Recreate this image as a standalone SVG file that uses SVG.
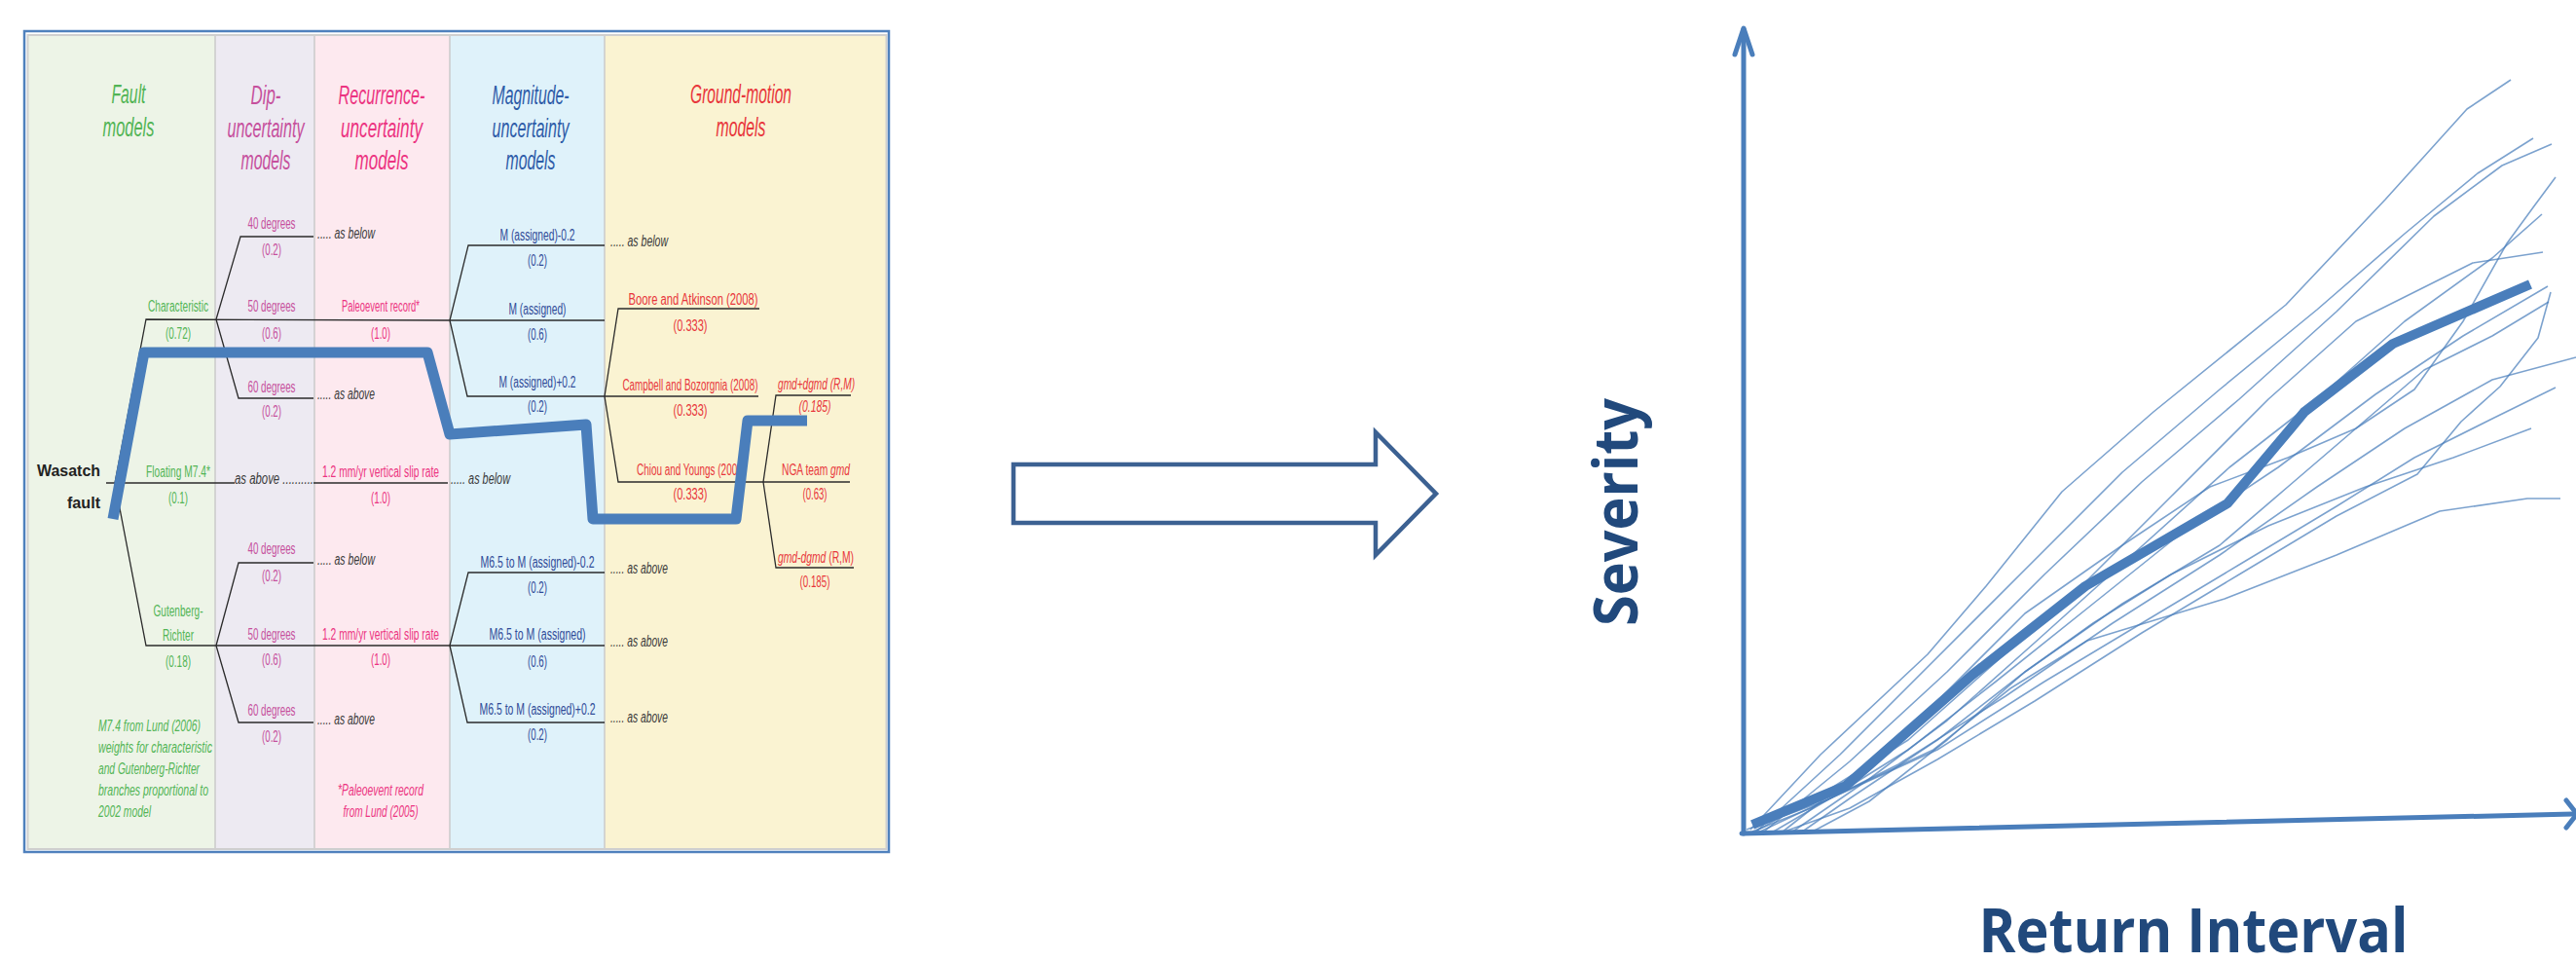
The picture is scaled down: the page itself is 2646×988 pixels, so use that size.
<svg xmlns="http://www.w3.org/2000/svg" width="2646" height="988" viewBox="0 0 2646 988">
<style>
text{font-family:"Liberation Sans Narrow","Liberation Sans",Arial,sans-serif;font-size:16px}
.hd{font-size:27px;font-style:italic;text-anchor:middle}
.c{text-anchor:middle}
.i{font-style:italic}
.gn{fill:#52b455}
.dp{fill:#c6509d}
.rc{fill:#ec3481}
.mg{fill:#2f4b98}
.mh{fill:#2e5ca8}
.gm{fill:#e8363b}
.dk{fill:#3a3a3a}
.tree{fill:none;stroke:#2b2b2b;stroke-width:1.3}
.sep{stroke:#cacaca;stroke-width:1.5}
.thin{fill:none;stroke:#4a7ebb;stroke-width:1.6;stroke-opacity:0.72;stroke-linejoin:round}
.big{font-family:"Open Sans","Noto Sans",sans-serif;font-weight:700;font-size:63px;fill:#21497c}
</style>

<!-- logic tree panel -->
<g id="panel">
  <rect x="28" y="36" width="883" height="836" fill="#edf4e7"/>
  <rect x="221" y="36" width="102" height="836" fill="#edeaf2"/>
  <rect x="323" y="36" width="139" height="836" fill="#fde9ef"/>
  <rect x="462" y="36" width="159" height="836" fill="#dff2fa"/>
  <rect x="621" y="36" width="290" height="836" fill="#faf3d2"/>
  <line class="sep" x1="221" y1="36" x2="221" y2="872"/>
  <line class="sep" x1="323" y1="36" x2="323" y2="872"/>
  <line class="sep" x1="462" y1="36" x2="462" y2="872"/>
  <line class="sep" x1="621" y1="36" x2="621" y2="872"/>
  <rect x="28.5" y="36" width="882" height="836" fill="none" stroke="#cfcfcf" stroke-width="2"/>
  <rect x="25" y="32" width="888" height="843" fill="none" stroke="#4f81bd" stroke-width="2.5"/>
</g>

<!-- column headers -->
<g id="headers">
  <text class="hd gn" x="132" y="106" textLength="35" lengthAdjust="spacingAndGlyphs">Fault</text>
  <text class="hd gn" x="132" y="140" textLength="53" lengthAdjust="spacingAndGlyphs">models</text>
  <text class="hd dp" x="273" y="107" textLength="31" lengthAdjust="spacingAndGlyphs">Dip-</text>
  <text class="hd dp" x="273" y="141" textLength="79" lengthAdjust="spacingAndGlyphs">uncertainty</text>
  <text class="hd dp" x="273" y="174" textLength="51" lengthAdjust="spacingAndGlyphs">models</text>
  <text class="hd rc" x="392" y="107" textLength="89" lengthAdjust="spacingAndGlyphs">Recurrence-</text>
  <text class="hd rc" x="392" y="141" textLength="84" lengthAdjust="spacingAndGlyphs">uncertainty</text>
  <text class="hd rc" x="392" y="174" textLength="55" lengthAdjust="spacingAndGlyphs">models</text>
  <text class="hd mh" x="545" y="107" textLength="79" lengthAdjust="spacingAndGlyphs">Magnitude-</text>
  <text class="hd mh" x="545" y="141" textLength="79" lengthAdjust="spacingAndGlyphs">uncertainty</text>
  <text class="hd mh" x="545" y="174" textLength="51" lengthAdjust="spacingAndGlyphs">models</text>
  <text class="hd gm" x="761" y="106" textLength="104" lengthAdjust="spacingAndGlyphs">Ground-motion</text>
  <text class="hd gm" x="761" y="140" textLength="51" lengthAdjust="spacingAndGlyphs">models</text>
</g>

<!-- branch connectors -->
<g id="connectors" class="tree">
  <polyline points="109,496 241,496"/>
  <polyline points="322,496 460,496"/>
  <polyline points="118,496 150,328 462,329"/>
  <polyline points="118,496 150,663 462,663"/>
  <polyline points="222,328 247,243 322,243"/>
  <polyline points="222,328 245,409 322,409"/>
  <polyline points="222,663 245,578 322,578"/>
  <polyline points="222,663 245,742 322,742"/>
  <polyline points="462,329 481,252 621,252"/>
  <polyline points="462,329 621,329"/>
  <polyline points="462,329 480,407 621,407"/>
  <polyline points="462,663 481,588 621,588"/>
  <polyline points="462,663 621,663"/>
  <polyline points="462,663 480,742 621,742"/>
  <polyline points="621,407 635,317 780,317"/>
  <polyline points="621,407 779,407"/>
  <polyline points="621,407 635,495 784,495"/>
  <polyline points="784,495 797,406 874,406"/>
  <polyline points="784,495 873,495"/>
  <polyline points="784,495 797,583 877,583"/>
</g>

<!-- root node -->
<g id="node-root">
  <text x="103" y="489" text-anchor="end" font-weight="700" font-size="28" fill="#222" textLength="65" lengthAdjust="spacingAndGlyphs">Wasatch</text>
  <text x="103" y="522" text-anchor="end" font-weight="700" font-size="28" fill="#222" textLength="34" lengthAdjust="spacingAndGlyphs">fault</text>
</g>

<!-- fault models -->
<g id="node-characteristic">
  <text class="c gn" x="183" y="320" textLength="62" lengthAdjust="spacingAndGlyphs">Characteristic</text>
  <text class="c gn" x="183" y="348" textLength="26" lengthAdjust="spacingAndGlyphs">(0.72)</text>
</g>
<g id="node-floating">
  <text class="c gn" x="183" y="490" textLength="66" lengthAdjust="spacingAndGlyphs">Floating M7.4*</text>
  <text class="c gn" x="183" y="517" textLength="20" lengthAdjust="spacingAndGlyphs">(0.1)</text>
  <text class="i dk" x="241" y="497" textLength="81" lengthAdjust="spacingAndGlyphs">as above ..........</text>
</g>
<g id="node-gr">
  <text class="c gn" x="183" y="633" textLength="51" lengthAdjust="spacingAndGlyphs">Gutenberg-</text>
  <text class="c gn" x="183" y="658" textLength="32" lengthAdjust="spacingAndGlyphs">Richter</text>
  <text class="c gn" x="183" y="685" textLength="26" lengthAdjust="spacingAndGlyphs">(0.18)</text>
</g>
<g id="note-fault" class="i gn">
  <text x="101" y="751" font-size="17" textLength="105" lengthAdjust="spacingAndGlyphs">M7.4 from Lund (2006)</text>
  <text x="101" y="773" font-size="17" textLength="117" lengthAdjust="spacingAndGlyphs">weights for characteristic</text>
  <text x="101" y="795" font-size="17" textLength="104" lengthAdjust="spacingAndGlyphs">and Gutenberg-Richter</text>
  <text x="101" y="817" font-size="17" textLength="113" lengthAdjust="spacingAndGlyphs">branches proportional to</text>
  <text x="101" y="839" font-size="17" textLength="54" lengthAdjust="spacingAndGlyphs">2002 model</text>
</g>

<!-- dip models -->
<g id="node-dip-char" class="c dp">
  <text x="279" y="235" textLength="49" lengthAdjust="spacingAndGlyphs">40 degrees</text>
  <text x="279" y="262" textLength="20" lengthAdjust="spacingAndGlyphs">(0.2)</text>
  <text x="279" y="320" textLength="49" lengthAdjust="spacingAndGlyphs">50 degrees</text>
  <text x="279" y="348" textLength="20" lengthAdjust="spacingAndGlyphs">(0.6)</text>
  <text x="279" y="403" textLength="49" lengthAdjust="spacingAndGlyphs">60 degrees</text>
  <text x="279" y="428" textLength="20" lengthAdjust="spacingAndGlyphs">(0.2)</text>
</g>
<g id="node-dip-gr" class="c dp">
  <text x="279" y="569" textLength="49" lengthAdjust="spacingAndGlyphs">40 degrees</text>
  <text x="279" y="597" textLength="20" lengthAdjust="spacingAndGlyphs">(0.2)</text>
  <text x="279" y="657" textLength="49" lengthAdjust="spacingAndGlyphs">50 degrees</text>
  <text x="279" y="683" textLength="20" lengthAdjust="spacingAndGlyphs">(0.6)</text>
  <text x="279" y="735" textLength="49" lengthAdjust="spacingAndGlyphs">60 degrees</text>
  <text x="279" y="762" textLength="20" lengthAdjust="spacingAndGlyphs">(0.2)</text>
</g>

<!-- recurrence models -->
<g id="node-rec-char">
  <text class="i dk" x="326" y="245" textLength="59" lengthAdjust="spacingAndGlyphs">..... as below</text>
  <text class="c rc" x="391" y="320" textLength="80" lengthAdjust="spacingAndGlyphs">Paleoevent record*</text>
  <text class="c rc" x="391" y="348" textLength="20" lengthAdjust="spacingAndGlyphs">(1.0)</text>
  <text class="i dk" x="326" y="410" textLength="59" lengthAdjust="spacingAndGlyphs">..... as above</text>
</g>
<g id="node-rec-floating">
  <text class="c rc" x="391" y="490" textLength="120" lengthAdjust="spacingAndGlyphs">1.2 mm/yr vertical slip rate</text>
  <text class="c rc" x="391" y="517" textLength="20" lengthAdjust="spacingAndGlyphs">(1.0)</text>
  <text class="i dk" x="463" y="497" textLength="61" lengthAdjust="spacingAndGlyphs">..... as below</text>
</g>
<g id="node-rec-gr">
  <text class="i dk" x="326" y="580" textLength="59" lengthAdjust="spacingAndGlyphs">..... as below</text>
  <text class="c rc" x="391" y="657" textLength="120" lengthAdjust="spacingAndGlyphs">1.2 mm/yr vertical slip rate</text>
  <text class="c rc" x="391" y="683" textLength="20" lengthAdjust="spacingAndGlyphs">(1.0)</text>
  <text class="i dk" x="326" y="744" textLength="59" lengthAdjust="spacingAndGlyphs">..... as above</text>
</g>
<g id="note-rec" class="c i rc">
  <text x="391" y="817" font-size="17" textLength="88" lengthAdjust="spacingAndGlyphs">*Paleoevent record</text>
  <text x="391" y="839" font-size="17" textLength="77" lengthAdjust="spacingAndGlyphs">from Lund (2005)</text>
</g>

<!-- magnitude models -->
<g id="node-mag-char" class="c mg">
  <text x="552" y="247" textLength="77" lengthAdjust="spacingAndGlyphs">M (assigned)-0.2</text>
  <text x="552" y="273" textLength="20" lengthAdjust="spacingAndGlyphs">(0.2)</text>
  <text x="552" y="323" textLength="59" lengthAdjust="spacingAndGlyphs">M (assigned)</text>
  <text x="552" y="349" textLength="20" lengthAdjust="spacingAndGlyphs">(0.6)</text>
  <text x="552" y="398" textLength="79" lengthAdjust="spacingAndGlyphs">M (assigned)+0.2</text>
  <text x="552" y="423" textLength="20" lengthAdjust="spacingAndGlyphs">(0.2)</text>
</g>
<g id="node-mag-gr" class="c mg">
  <text x="552" y="583" textLength="117" lengthAdjust="spacingAndGlyphs">M6.5 to M (assigned)-0.2</text>
  <text x="552" y="609" textLength="20" lengthAdjust="spacingAndGlyphs">(0.2)</text>
  <text x="552" y="657" textLength="99" lengthAdjust="spacingAndGlyphs">M6.5 to M (assigned)</text>
  <text x="552" y="685" textLength="20" lengthAdjust="spacingAndGlyphs">(0.6)</text>
  <text x="552" y="734" textLength="119" lengthAdjust="spacingAndGlyphs">M6.5 to M (assigned)+0.2</text>
  <text x="552" y="760" textLength="20" lengthAdjust="spacingAndGlyphs">(0.2)</text>
</g>

<!-- ground-motion models -->
<g id="node-gm">
  <text class="i dk" x="627" y="253" textLength="59" lengthAdjust="spacingAndGlyphs">..... as below</text>
  <text class="c gm" x="712" y="313" textLength="133" lengthAdjust="spacingAndGlyphs">Boore and Atkinson (2008)</text>
  <text class="c gm" x="709" y="340" textLength="35" lengthAdjust="spacingAndGlyphs">(0.333)</text>
  <text class="c gm" x="709" y="401" textLength="139" lengthAdjust="spacingAndGlyphs">Campbell and Bozorgnia (2008)</text>
  <text class="c gm" x="709" y="427" textLength="35" lengthAdjust="spacingAndGlyphs">(0.333)</text>
  <text class="gm" x="654" y="488" textLength="112" lengthAdjust="spacingAndGlyphs">Chiou and Youngs (2008)</text>
  <text class="c gm" x="709" y="513" textLength="35" lengthAdjust="spacingAndGlyphs">(0.333)</text>
  <text class="i dk" x="627" y="589" textLength="59" lengthAdjust="spacingAndGlyphs">..... as above</text>
  <text class="i dk" x="627" y="664" textLength="59" lengthAdjust="spacingAndGlyphs">..... as above</text>
  <text class="i dk" x="627" y="742" textLength="59" lengthAdjust="spacingAndGlyphs">..... as above</text>
</g>
<g id="node-gmd">
  <text class="i gm" x="799" y="400" textLength="79" lengthAdjust="spacingAndGlyphs">gmd+dgmd (R,M)</text>
  <text class="c i gm" x="837" y="423" textLength="33" lengthAdjust="spacingAndGlyphs">(0.185)</text>
  <text class="gm" x="803" y="488" textLength="70" lengthAdjust="spacingAndGlyphs">NGA team <tspan font-style="italic">gmd</tspan></text>
  <text class="c gm" x="837" y="513" textLength="25" lengthAdjust="spacingAndGlyphs">(0.63)</text>
  <text class="gm" x="799" y="578" textLength="78" lengthAdjust="spacingAndGlyphs"><tspan font-style="italic">gmd-dgmd</tspan> (R,M)</text>
  <text class="c gm" x="837" y="603" textLength="31" lengthAdjust="spacingAndGlyphs">(0.185)</text>
</g>

<!-- highlighted path through the tree -->
<g id="tree-path">
  <polyline points="116,533 148,362 439,362 462,446 602,436 609,533 756,533 768,432 829,432" fill="none" stroke="#4a7ebb" stroke-width="11" stroke-linejoin="round"/>
</g>

<!-- block arrow -->
<g id="block-arrow">
  <polygon points="1041,477 1413,477 1413,444 1475,507 1413,570 1413,537 1041,537" fill="#fff" stroke="#3c6192" stroke-width="4.5"/>
</g>

<!-- hazard curves -->
<g id="chart">
  <g id="curves">
    <polyline class="thin" points="1798,852 1870,775 1980,672 2040,602 2118,505 2212,423 2348,313 2450,205 2534,112 2579,82"/>
    <polyline class="thin" points="1805,853 1890,775 1985,680 2080,585 2180,485 2280,400 2380,318 2470,240 2545,178 2602,142"/>
    <polyline class="thin" points="1812,854 1900,782 2000,690 2100,590 2200,495 2300,410 2400,320 2500,222 2570,170 2621,148"/>
    <polyline class="thin" points="1830,855 1900,800 1990,720 2080,630 2180,560 2270,500 2350,470 2420,440 2480,400 2530,330 2575,250 2602,213 2625,182"/>
    <polyline class="thin" points="1840,855 1920,800 2000,740 2090,660 2190,570 2290,480 2380,410 2470,330 2560,265 2611,220"/>
    <polyline class="thin" points="1803,854 1880,810 1960,760 2050,680 2140,600 2230,510 2330,410 2420,330 2480,300 2540,270 2612,259"/>
    <polyline class="thin" points="1820,855 1880,820 1960,770 2050,700 2150,620 2250,540 2340,480 2440,405 2530,345 2617,294"/>
    <polyline class="thin" points="1850,855 1900,820 1990,760 2080,690 2180,620 2280,560 2350,500 2420,440 2490,380 2560,345 2618,310"/>
    <polyline class="thin" points="1830,855 1900,830 1990,780 2090,720 2200,650 2300,590 2400,530 2483,487 2528,433 2568,397 2607,347 2620,300"/>
    <polyline class="thin" points="1800,854 1860,830 1950,785 2060,715 2170,640 2280,570 2380,500 2470,440 2560,390 2646,367"/>
    <polyline class="thin" points="1808,854 1880,820 1990,770 2100,700 2200,640 2300,580 2400,520 2480,470 2560,430 2625,398"/>
    <polyline class="thin" points="1794,852 1873,823 1986,770 2065,707 2144,658 2285,615 2400,570 2506,525 2596,512 2630,512"/>
    <polyline class="thin" points="1860,855 1920,823 2000,760 2080,690 2150,640 2230,590 2330,540 2430,500 2520,470 2600,440"/>
  </g>
  <polyline id="mean-curve" points="1800,847 1896,807 2026,693 2142,602 2288,517 2353,440 2367,423 2458,353 2599,292" fill="none" stroke="#4a7ebb" stroke-width="10" stroke-linejoin="round"/>
  <g id="axes" fill="none" stroke="#4a7ebb" stroke-width="5" stroke-linecap="round" stroke-linejoin="round">
    <line x1="1791" y1="856" x2="1791" y2="30"/>
    <polyline points="1782,56 1791,29 1800,56"/>
    <line x1="1789" y1="856" x2="2643" y2="836"/>
    <polyline points="2636,822 2647,836 2636,850"/>
  </g>
  <text class="big" transform="translate(1682,526) rotate(-90)" text-anchor="middle" textLength="234" lengthAdjust="spacingAndGlyphs">Severity</text>
  <text class="big" x="2253" y="978" text-anchor="middle" textLength="441" lengthAdjust="spacingAndGlyphs">Return Interval</text>
</g>
</svg>
